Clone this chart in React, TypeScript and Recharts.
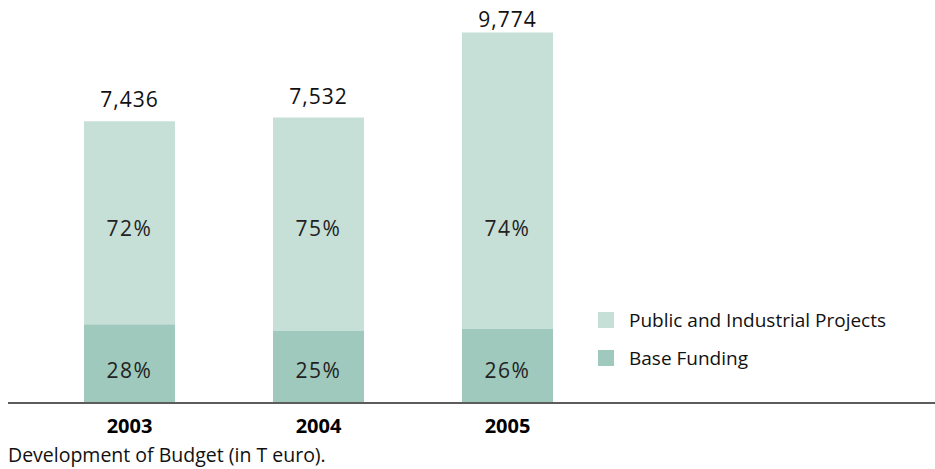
import { Bar, BarChart, LabelList, XAxis, YAxis } from "recharts";

const years = ["2003", "2004", "2005"];
const baseFunding = [2080, 1900, 1950];
const projects = [5356, 5632, 7824];
const totalLabels = ["7,436", "7,532", "9,774"];
const projectShares = ["72%", "75%", "74%"];
const baseShares = ["28%", "25%", "26%"];

const COLORS = {
  projects: "#c6dfd7",
  base: "#9fc9bc",
  axis: "#5c5c5c",
  text: "#111111",
};

const FONT = "'Open Sans', sans-serif";

const chartData = years.map((year, i) => ({
  year,
  base: baseFunding[i],
  projects: projects[i],
}));

// the share labels sit on fixed rows in the original, not centred in segments
function shareLabel(labels: string[], baselineY: number) {
  return (props: any) => {
    const { x, width, index } = props;
    return (
      <text
        x={x + width / 2}
        y={baselineY}
        textAnchor="middle"
        fontSize={21}
        letterSpacing={1.5}
        fontFamily={FONT}
        fill="#222"
      >
        {labels[index]}
      </text>
    );
  };
}

function totalLabel(props: any) {
  const { x, y, width, index } = props;
  // tallest total gets pushed down against the top edge, as in the original
  return (
    <text
      x={x + width / 2}
      y={Math.max(y - 14, 27)}
      textAnchor="middle"
      fontSize={21}
      letterSpacing={1}
      fontFamily={FONT}
      fill={COLORS.text}
    >
      {totalLabels[index]}
    </text>
  );
}

function LegendBox() {
  const items = [
    { name: "Public and Industrial Projects", color: COLORS.projects },
    { name: "Base Funding", color: COLORS.base },
  ];
  return (
    <div
      style={{
        position: "absolute",
        left: 598,
        top: 301,
        fontFamily: FONT,
        fontSize: 19,
        color: COLORS.text,
      }}
    >
      {items.map((it) => (
        <div
          key={it.name}
          style={{ display: "flex", alignItems: "center", height: 38 }}
        >
          <span
            style={{
              width: 16,
              height: 16,
              background: it.color,
              marginRight: 15,
              display: "inline-block",
            }}
          />
          <span>{it.name}</span>
        </div>
      ))}
    </div>
  );
}

export default function App() {
  return (
    <div style={{ position: "relative", width: 935, height: 469 }}>
      <style>{"body { margin: 0; }"}</style>
      <BarChart
        width={935}
        height={469}
        data={chartData}
        margin={{ top: 24, right: 0, left: 8, bottom: 36 }}
      >
        <XAxis
          dataKey="year"
          padding={{ left: 27, right: 333 }}
          axisLine={{ stroke: COLORS.axis, strokeWidth: 2 }}
          tickLine={false}
          tickMargin={10}
          height={30}
          tick={{ fontSize: 20, fontWeight: 700, fill: "#000", fontFamily: FONT }}
        />
        <YAxis hide domain={[0, 10000]} />
        <Bar
          dataKey="base"
          stackId="a"
          fill={COLORS.base}
          barSize={91}
          isAnimationActive={false}
        >
          <LabelList content={shareLabel(baseShares, 378)} />
        </Bar>
        <Bar
          dataKey="projects"
          stackId="a"
          fill={COLORS.projects}
          barSize={91}
          isAnimationActive={false}
        >
          <LabelList content={shareLabel(projectShares, 236)} />
          <LabelList content={totalLabel} />
        </Bar>
      </BarChart>
      <LegendBox />
      <div
        style={{
          position: "absolute",
          left: 8,
          top: 441,
          fontFamily: FONT,
          fontSize: 19.5,
          color: COLORS.text,
        }}
      >
        Development of Budget (in T euro).
      </div>
    </div>
  );
}
